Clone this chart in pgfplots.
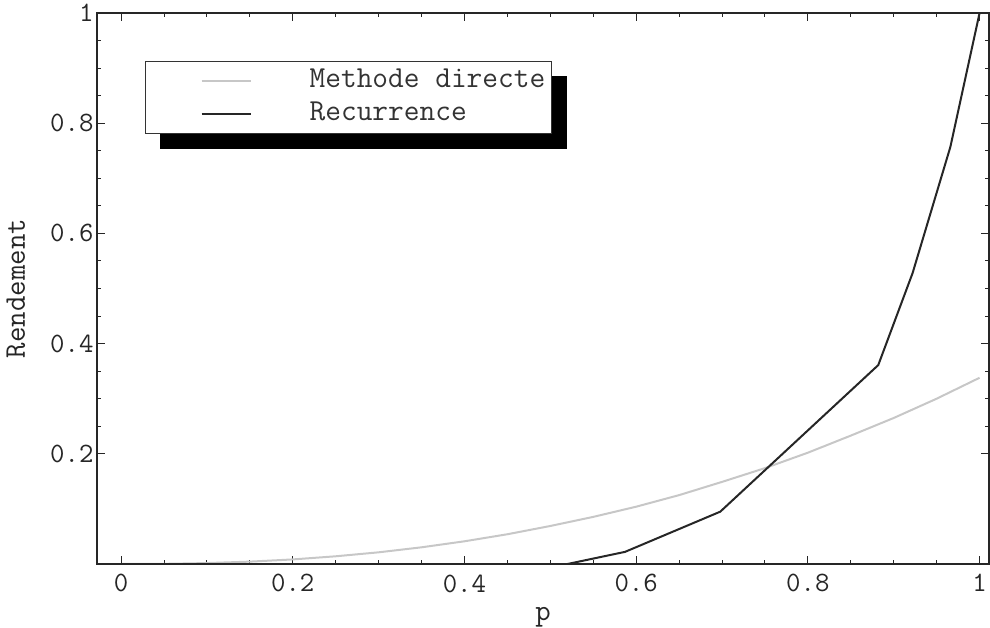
\documentclass[border=0pt]{standalone}
\usepackage{fontspec}
\usepackage{pgfplots}
\pgfplotsset{compat=1.18}
\usetikzlibrary{backgrounds}
\begin{document}
\begin{tikzpicture}
\begin{axis}[
  name=ax,
  scale only axis,
  width=892pt, height=551pt,
  xmin=-0.028, xmax=1.011,
  ymin=0, ymax=1,
  xtick={0,0.2,0.4,0.6,0.8,1},
  ytick={0.2,0.4,0.6,0.8,1},
  minor x tick num=3,
  minor y tick num=3,
  tick align=inside,
  major tick length=8pt,
  minor tick length=4pt,
  tick style={black!85, line width=0.9pt},
  axis line style={black!85, line width=1.3pt},
  /pgf/number format/assume math mode=true,
  ticklabel style={font=\ttfamily\fontsize{28}{32}\selectfont, text=black!85},
  xticklabel style={yshift=-7pt},
  label style={font=\ttfamily\fontsize{30}{34}\selectfont, text=black!85},
  xlabel={p},
  xlabel style={yshift=-8pt},
  ylabel={Rendement},
  ylabel shift=18pt,
  legend cell align=left,
  legend image code/.code={\draw[#1] (0pt,0pt) -- (49pt,0pt); \path (-52pt,0pt) (104pt,0pt);},
  legend style={
    name=leg,
    at={(0.054,0.913)}, anchor=north west,
    draw=black!80, line width=1pt, fill=white,
    inner xsep=3pt, inner ysep=6pt,
    row sep=6pt,
    font=\ttfamily\fontsize{30.5}{34}\selectfont,
    text=black!80,
    nodes={inner xsep=3pt, inner ysep=2pt, text height=18pt, text depth=5pt},
  },
]
\addplot[color=black!22, line width=2pt] coordinates {
 (0,0) (0.05,0.0003) (0.1,0.0017) (0.15,0.0043) (0.2,0.0083) (0.25,0.0140)
 (0.3,0.0212) (0.35,0.0303) (0.4,0.0412) (0.45,0.054) (0.5,0.069)
 (0.55,0.0855) (0.6,0.104) (0.65,0.125) (0.7,0.149) (0.75,0.174)
 (0.8,0.202) (0.85,0.233) (0.9,0.265) (0.95,0.300) (1.0,0.338)
};
\addlegendentry{Methode directe}
\addplot[color=black!85, line width=2pt] coordinates {
 (0,0) (0.52,0) (0.587,0.022) (0.698,0.095) (0.882,0.361)
 (0.922,0.528) (0.966,0.757) (1.0,1.0)
};
\addlegendentry{Recurrence}
\end{axis}
\begin{scope}[on background layer]
\fill[black] ([shift={(15pt,-15pt)}]leg.south west) rectangle ([shift={(15pt,-15pt)}]leg.north east);
\end{scope}
\pgfresetboundingbox
\path (ax.south west) ++(-97pt,-63pt) rectangle ([shift={(1pt,13pt)}]ax.north east);
\end{tikzpicture}
\end{document}
